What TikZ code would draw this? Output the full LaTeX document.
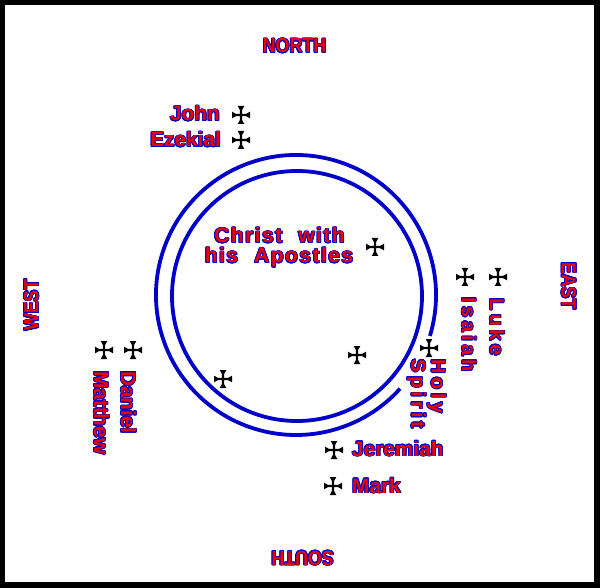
\documentclass[tikz,border=0pt]{standalone}
\usepackage{fontspec}
\setmainfont{Liberation Sans}
\usepackage{xcolor}
\usepackage{contour}
\usepackage{tikz}
\contourlength{0.8pt}
\definecolor{ringblue}{RGB}{0,0,200}
\definecolor{namered}{RGB}{235,0,0}
\newfontfamily\compassfont{Liberation Sans}[FakeStretch=0.87]
\newfontfamily\spacedfont{Liberation Sans}[LetterSpace=18]
\newfontfamily\christfont{Liberation Sans}[LetterSpace=7,WordSpace=2.2]
\newcommand{\outl}[1]{\contour{ringblue}{#1}}
\tikzset{holycross/.pic={\foreach \a in {0,90,180,270}{\fill[black,rotate=\a] (-1.1,0) -- (-1.1,5) -- (-3.3,9) -- (3.3,9) -- (1.1,5) -- (1.1,0) -- cycle;}}}

\begin{document}
\begin{tikzpicture}[x=1pt,y=1pt,every node/.style={inner sep=0pt,text=namered},
  compass/.style={font=\compassfont\bfseries\fontsize{20.5}{22}\selectfont},
  saint/.style={font=\bfseries\fontsize{20.8}{22}\selectfont},
  spaced/.style={font=\spacedfont\bfseries\fontsize{20}{22}\selectfont,anchor=base west,rotate=-90},
  christtxt/.style={font=\christfont\bfseries\fontsize{21}{23}\selectfont,anchor=base},
  ring/.style={draw=ringblue,line width=3.8pt}]
  \fill[black] (0,0) rectangle (600,-588);
  \fill[white] (5,-5) rectangle (594,-582);
  \useasboundingbox (0,0) rectangle (600,-588);
  % the two rings, the outer one open at the Holy Spirit
  \draw[ring] (296,-295) ++(-17:140) arc[start angle=-17,end angle=318,radius=140];
  \draw[ring] (297,-296) circle[radius=125];
  % quarters
  \node[compass,anchor=base] (north) at (294.5,-53) {\outl{NORTH}};
  \node[compass,anchor=base west,rotate=-90] (east) at (561.7,-262) {\outl{EAST}};
  \node[compass,anchor=base west,rotate=180] (south) at (334,-551) {\outl{SOUTH}};
  \node[compass,anchor=base west,rotate=90] (west) at (38.3,-331) {\outl{WEST}};
  % names
  \node[saint,anchor=base east] (john) at (220,-121) {\outl{John}};
  \node[saint,anchor=base east] (ezekial) at (221,-147) {\outl{Ezekial}};
  \node[christtxt] (christ) at (279.5,-243) {\outl{Christ with}};
  \node[christtxt] (apostles) at (279,-263) {\outl{his Apostles}};
  \node[spaced] (holy) at (431.5,-359) {\outl{Holy}};
  \node[spaced] (spirit) at (411.5,-359) {\outl{Spirit}};
  \node[spaced] (luke) at (490,-298) {\outl{Luke}};
  \node[spaced] (isaiah) at (462,-297) {\outl{Isaiah}};
  \node[saint,anchor=base west,rotate=-90] (daniel) at (121,-371) {\outl{Daniel}};
  \node[saint,anchor=base west,rotate=-90] (matthew) at (94,-371) {\outl{Matthew}};
  \node[saint,anchor=base west] (jeremiah) at (352,-456) {\outl{Jeremiah}};
  \node[saint,anchor=base west] (mark) at (352,-493) {\outl{Mark}};
  % crosses
  \foreach \x/\y in {241/115,241/140,375/247,357/355,223/379,429/348,498/277,465/277,133/350,104/350,334/450,333/486}
    \pic at (\x,-\y) {holycross};
\end{tikzpicture}
\end{document}
